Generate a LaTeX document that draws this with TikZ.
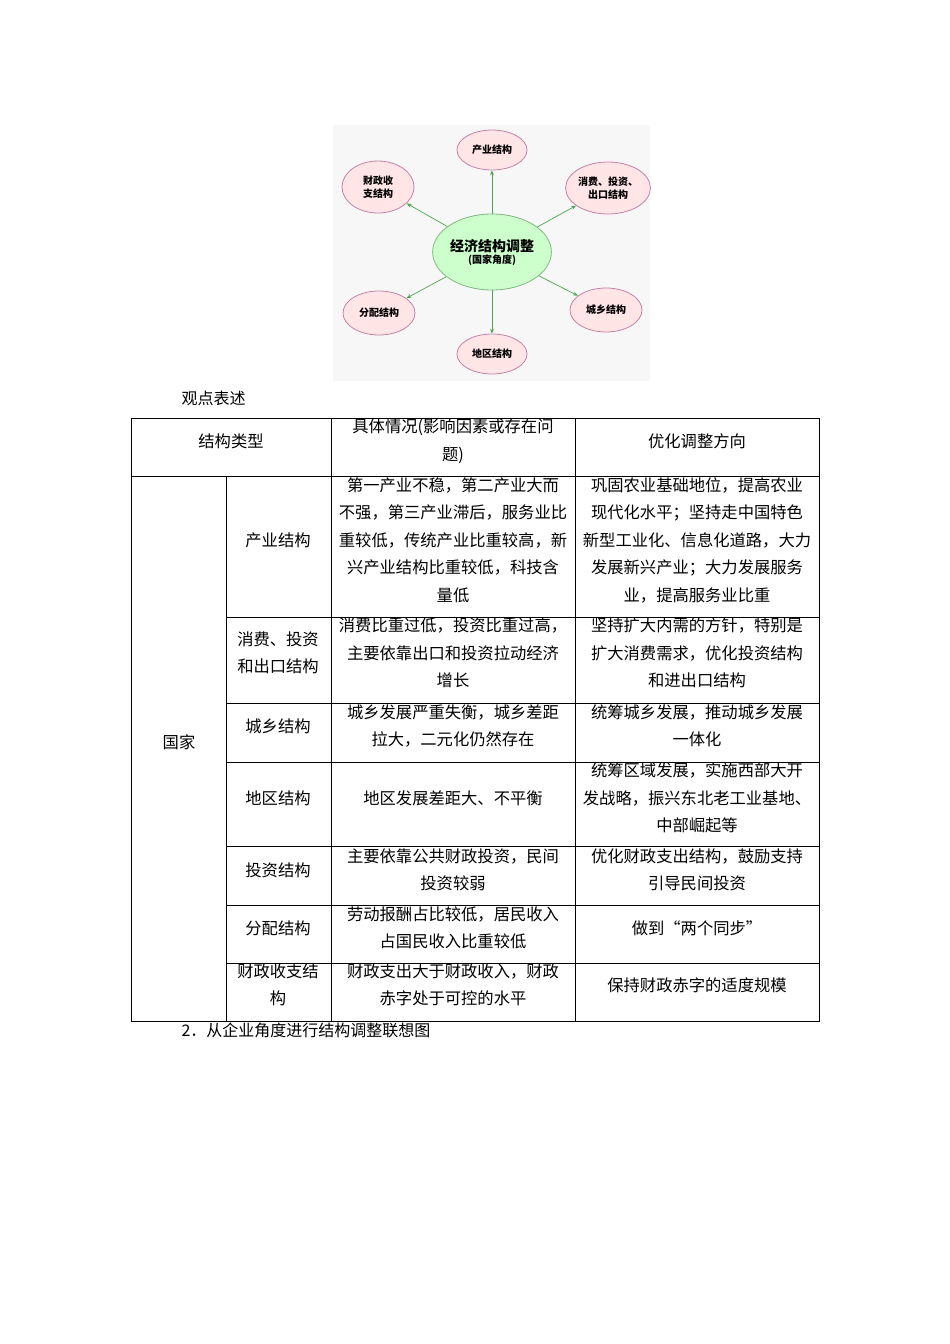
\documentclass[tikz,border=0pt]{standalone}
\usepackage{fontspec}
\setmainfont{Noto Sans CJK SC}
\usetikzlibrary{arrows.meta,shapes.geometric}
\begin{document}
\begin{tikzpicture}[x=1pt,y=-1pt,
 bub/.style={ellipse,draw=magenta!60!black!60,fill=pink!40,line width=0.8pt,font=\fontsize{10}{13}\selectfont\bfseries,align=center,inner sep=0pt},
 arr/.style={-{Stealth[length=5pt]},draw=green!50!black!70,line width=0.7pt},
 cell/.style={align=center,font=\fontsize{16.3}{27.5}\selectfont,inner sep=0pt}]
\useasboundingbox (0,0) rectangle (950,1344);
\fill[gray!6] (333,125) rectangle (650,381);
\node[ellipse,draw=green!45!black!50,fill=green!20,line width=0.8pt,minimum width=108pt,minimum height=76pt,align=center,inner sep=0pt] (c) at (492,252) {{\fontsize{14}{18}\selectfont\bfseries 经济结构调整}\\{\fontsize{10}{13}\selectfont\bfseries (国家角度)}};
\node[bub,minimum width=70pt,minimum height=40pt] (a) at (492,150) {产业结构};
\node[bub,minimum width=72pt,minimum height=52pt] (b) at (378,187) {财政收\\支结构};
\node[bub,minimum width=74pt,minimum height=52pt] (d) at (608,188) {消费、投资、\\出口结构};
\node[bub,minimum width=72pt,minimum height=44pt] (e) at (379,313) {分配结构};
\node[bub,minimum width=70pt,minimum height=40pt] (f) at (492,354) {地区结构};
\node[bub,minimum width=72pt,minimum height=44pt] (g) at (606,310) {城乡结构};
\foreach \t in {a,b,d,e,f,g} \draw[arr] (c) -- (\t);
\node[anchor=west,font=\fontsize{16}{18}\selectfont] (t1) at (178,398) {观点表述};
\node[anchor=west,font=\fontsize{16}{18}\selectfont] (t2) at (178,1030) {2．从企业角度进行结构调整联想图};
\draw[line width=0.8pt] (131,418) rectangle (819,1021);
\foreach \y in {476,617,703,762,846,905,963} \draw[line width=0.6pt] (226,\y) -- (819,\y);
\draw[line width=0.6pt] (131,476) -- (226,476);
\draw[line width=0.6pt] (226,476) -- (226,1021);
\draw[line width=0.6pt] (331,418) -- (331,1021);
\draw[line width=0.6pt] (575,418) -- (575,1021);
\node[cell] (h1) at (231,441) {结构类型};
\node[cell] (h2) at (453,441) {具体情况(影响因素或存在问\\题)};
\node[cell] (h3) at (697,441) {优化调整方向};
\node[cell] (g0) at (179,742) {国家};
\node[cell] (r1) at (278,540) {产业结构};
\node[cell] (r1b) at (453,540) {第一产业不稳，第二产业大而\\不强，第三产业滞后，服务业比\\重较低，传统产业比重较高，新\\兴产业结构比重较低，科技含\\量低};
\node[cell] (r1c) at (697,540) {巩固农业基础地位，提高农业\\现代化水平；坚持走中国特色\\新型工业化、信息化道路，大力\\发展新兴产业；大力发展服务\\业，提高服务业比重};
\node[cell] (r2) at (278,653) {消费、投资\\和出口结构};
\node[cell] (r2b) at (453,653) {消费比重过低，投资比重过高，\\主要依靠出口和投资拉动经济\\增长};
\node[cell] (r2c) at (697,653) {坚持扩大内需的方针，特别是\\扩大消费需求，优化投资结构\\和进出口结构};
\node[cell] (r3) at (278,726) {城乡结构};
\node[cell] (r3b) at (453,726) {城乡发展严重失衡，城乡差距\\拉大，二元化仍然存在};
\node[cell] (r3c) at (697,726) {统筹城乡发展，推动城乡发展\\一体化};
\node[cell] (r4) at (278,798) {地区结构};
\node[cell] (r4b) at (453,798) {地区发展差距大、不平衡};
\node[cell] (r4c) at (697,798) {统筹区域发展，实施西部大开\\发战略，振兴东北老工业基地、\\中部崛起等};
\node[cell] (r5) at (278,870) {投资结构};
\node[cell] (r5b) at (453,870) {主要依靠公共财政投资，民间\\投资较弱};
\node[cell] (r5c) at (697,870) {优化财政支出结构，鼓励支持\\引导民间投资};
\node[cell] (r6) at (278,928) {分配结构};
\node[cell] (r6b) at (453,928) {劳动报酬占比较低，居民收入\\占国民收入比重较低};
\node[cell] (r6c) at (697,928) {做到“两个同步”};
\node[cell] (r7) at (278,985) {财政收支结\\构};
\node[cell] (r7b) at (453,985) {财政支出大于财政收入，财政\\赤字处于可控的水平};
\node[cell] (r7c) at (697,985) {保持财政赤字的适度规模};
\end{tikzpicture}
\end{document}
